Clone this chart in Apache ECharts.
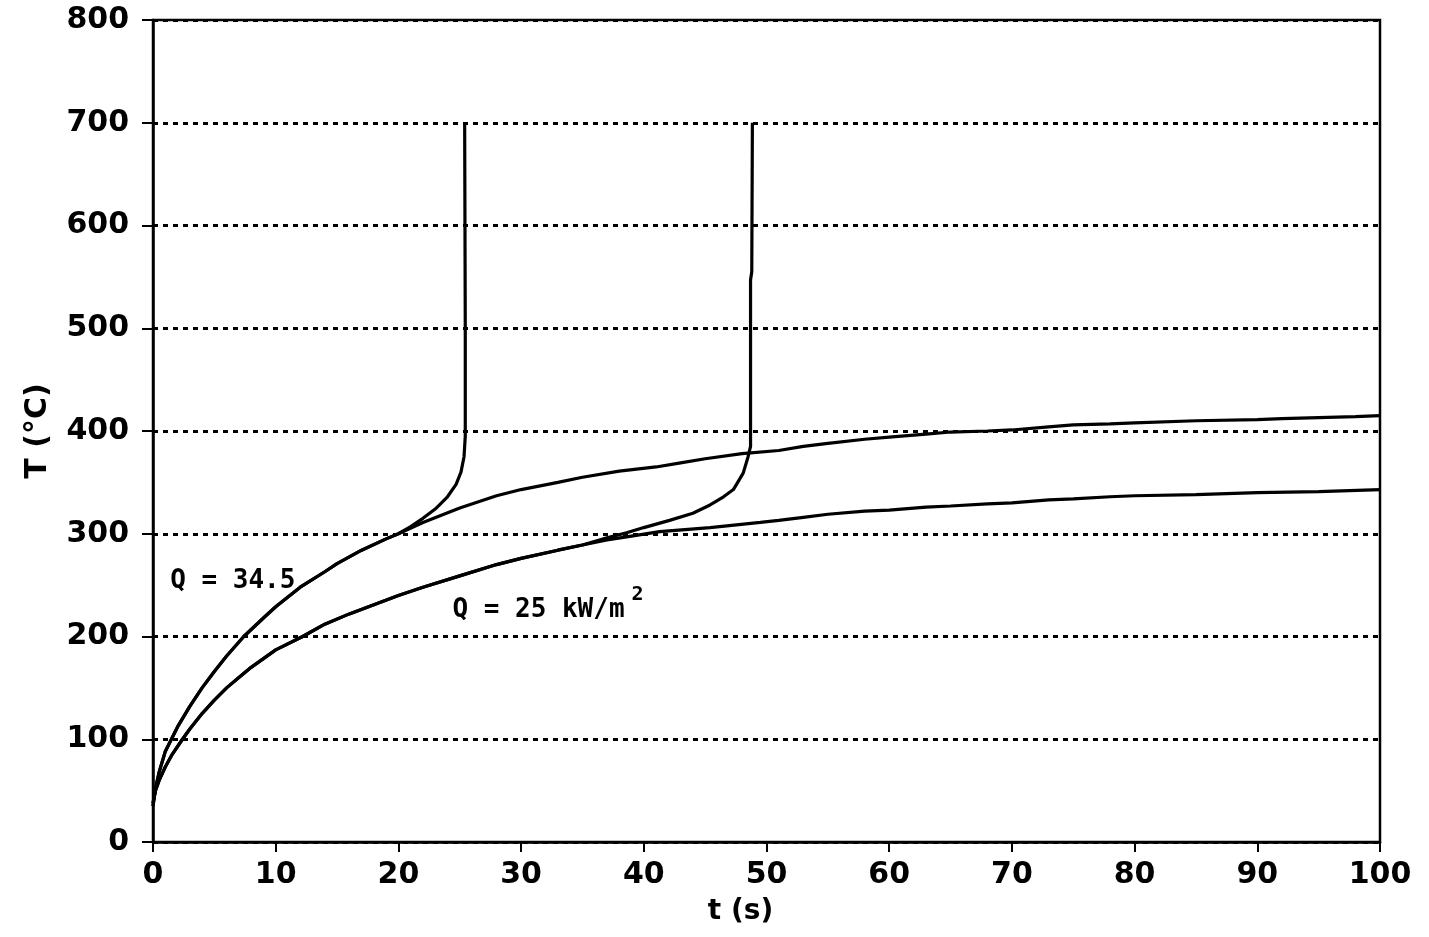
<!DOCTYPE html>
<html>
<head>
<meta charset="utf-8">
<title>Surface temperature vs time</title>
<script src="https://cdn.jsdelivr.net/npm/echarts@6/dist/echarts.min.js"></script>
<style>
  html, body { margin: 0; padding: 0; background: #fff; }
  #chart { width: 1429px; height: 937px; }
</style>
</head>
<body>
<div id="chart"></div>
<script>
// Surface temperature T (°C) against time t (s) for two heat fluxes.
// Each flux has a sample that ignites (temperature jumps to 700 °C)
// and a sample that keeps heating without ignition.

const xTicks = [0, 10, 20, 30, 40, 50, 60, 70, 80, 90, 100];
const yTicks = [0, 100, 200, 300, 400, 500, 600, 700, 800];

// Q = 34.5 kW/m², common heating part
const q345Rise = [
  [0, 35], [0.2, 52], [0.5, 68], [1, 88], [1.5, 100], [2, 112], [3, 132],
  [4, 150], [5, 166], [6, 181], [7.4, 200], [9, 218], [10, 229], [12, 248],
  [14, 263], [15, 271], [17, 284], [19, 295], [20, 300]
];
// Q = 34.5, no ignition
const q345NoIgn = [
  [22, 311], [25, 325], [28, 337], [30, 343], [33, 350], [35, 355], [38, 361],
  [41, 365], [43, 369], [45, 373], [48, 378], [51, 381], [53, 385], [55, 388],
  [58, 392], [60, 394], [63, 397], [65, 399], [68, 400], [70, 401], [73, 404],
  [75, 406], [78, 407], [80, 408], [85, 410], [90, 411], [92, 412], [95, 413],
  [98, 414], [100, 415]
];
// Q = 34.5, ignition near 25 s
const q345Ign = [
  [21, 307], [22, 315], [23, 324], [24, 336], [24.7, 348], [25.1, 360],
  [25.35, 375], [25.45, 395], [25.45, 500], [25.4, 700]
];

// Q = 25 kW/m², common heating part
const q25Rise = [
  [0, 38], [0.2, 50], [0.5, 60], [1, 73], [1.5, 84], [2.4, 100], [3, 110],
  [4, 125], [5, 138], [6, 150], [7, 160], [8, 170], [10, 187], [12.2, 200],
  [14, 212], [16, 222], [18, 231], [20, 240], [22, 248], [25, 259], [28, 270],
  [30, 276], [33, 284], [35, 289]
];
// Q = 25, no ignition
const q25NoIgn = [
  [37, 294], [38.6, 297], [41.3, 302], [45.4, 306], [49.5, 311], [51, 313],
  [53, 316], [55, 319], [58, 322], [60, 323], [63, 326], [65, 327], [68, 329],
  [70, 330], [73, 333], [75, 334], [78, 336], [80, 337], [85, 338], [90, 340],
  [95, 341], [100, 343]
];
// Q = 25, ignition near 49 s
const q25Ign = [
  [37, 296], [38.6, 301], [40, 306], [42.1, 313], [44, 320], [45.4, 328],
  [46.5, 336], [47.3, 343], [48.1, 359], [48.5, 375], [48.7, 385],
  [48.7, 547], [48.8, 555], [48.85, 700]
];

// Curve annotations: [t, T, text, font size]
const notes = [
  [1.4, 254, 'Q = 34.5', 26],
  [24.4, 226, 'Q = 25 kW/m', 26],
  [39.0, 241, '2', 20]
];

const line = (data) => ({
  type: 'line',
  data: data,
  showSymbol: false,
  symbol: 'none',
  smooth: false,
  lineStyle: { color: '#000', width: 3.2 },
  z: 5,
  animation: false
});

const chart = echarts.init(document.getElementById('chart'), null, { renderer: 'canvas' });

const tickFont = { color: '#000', fontFamily: 'DejaVu Sans', fontWeight: 'bold', fontSize: 30 };

chart.setOption({
  animation: false,
  backgroundColor: '#fff',
  grid: {
    left: 153, top: 20, right: 49, bottom: 95,
    show: true, borderColor: '#000', borderWidth: 2.5, backgroundColor: 'transparent'
  },
  xAxis: {
    type: 'value', min: 0, max: 100, interval: 10,
    name: 't (s)', nameLocation: 'middle', nameGap: 56,
    nameTextStyle: {
      color: '#000', fontFamily: 'DejaVu Sans', fontWeight: 'bold', fontSize: 28,
      padding: [0, 52, 0, 0]
    },
    axisLine: { show: true, onZero: false, lineStyle: { color: '#000', width: 2.5 } },
    axisTick: { show: true, length: 10, lineStyle: { color: '#000', width: 2 } },
    axisLabel: Object.assign({ margin: 18, formatter: (v) => String(v) }, tickFont),
    splitLine: { show: false }
  },
  yAxis: {
    type: 'value', min: 0, max: 800, interval: 100,
    name: 'T (°C)', nameLocation: 'middle', nameGap: 100, nameRotate: 90,
    nameTextStyle: { color: '#000', fontFamily: 'DejaVu Sans', fontWeight: 'bold', fontSize: 30 },
    axisLine: { show: true, onZero: false, lineStyle: { color: '#000', width: 2.5 } },
    axisTick: { show: true, length: 11, lineStyle: { color: '#000', width: 2 } },
    axisLabel: Object.assign({ margin: 24, formatter: (v) => String(v) }, tickFont),
    splitLine: {
      show: true,
      lineStyle: { color: '#000', width: 3, type: [5, 5] }
    }
  },
  series: [
    line(q345Rise.concat(q345NoIgn)),
    line(q345Rise.concat(q345Ign)),
    line(q25Rise.concat(q25NoIgn)),
    line(q25Rise.concat(q25Ign)),
    {
      type: 'scatter',
      symbolSize: 0,
      silent: true,
      z: 6,
      itemStyle: { opacity: 1 },
      data: notes.map((n) => ({
        value: [n[0], n[1]],
        label: {
          show: true,
          position: 'right',
          distance: 0,
          formatter: n[2],
          color: '#000',
          fontFamily: 'DejaVu Sans Mono',
          fontWeight: 'bold',
          fontSize: n[3]
        }
      }))
    }
  ]
});
</script>
</body>
</html>
